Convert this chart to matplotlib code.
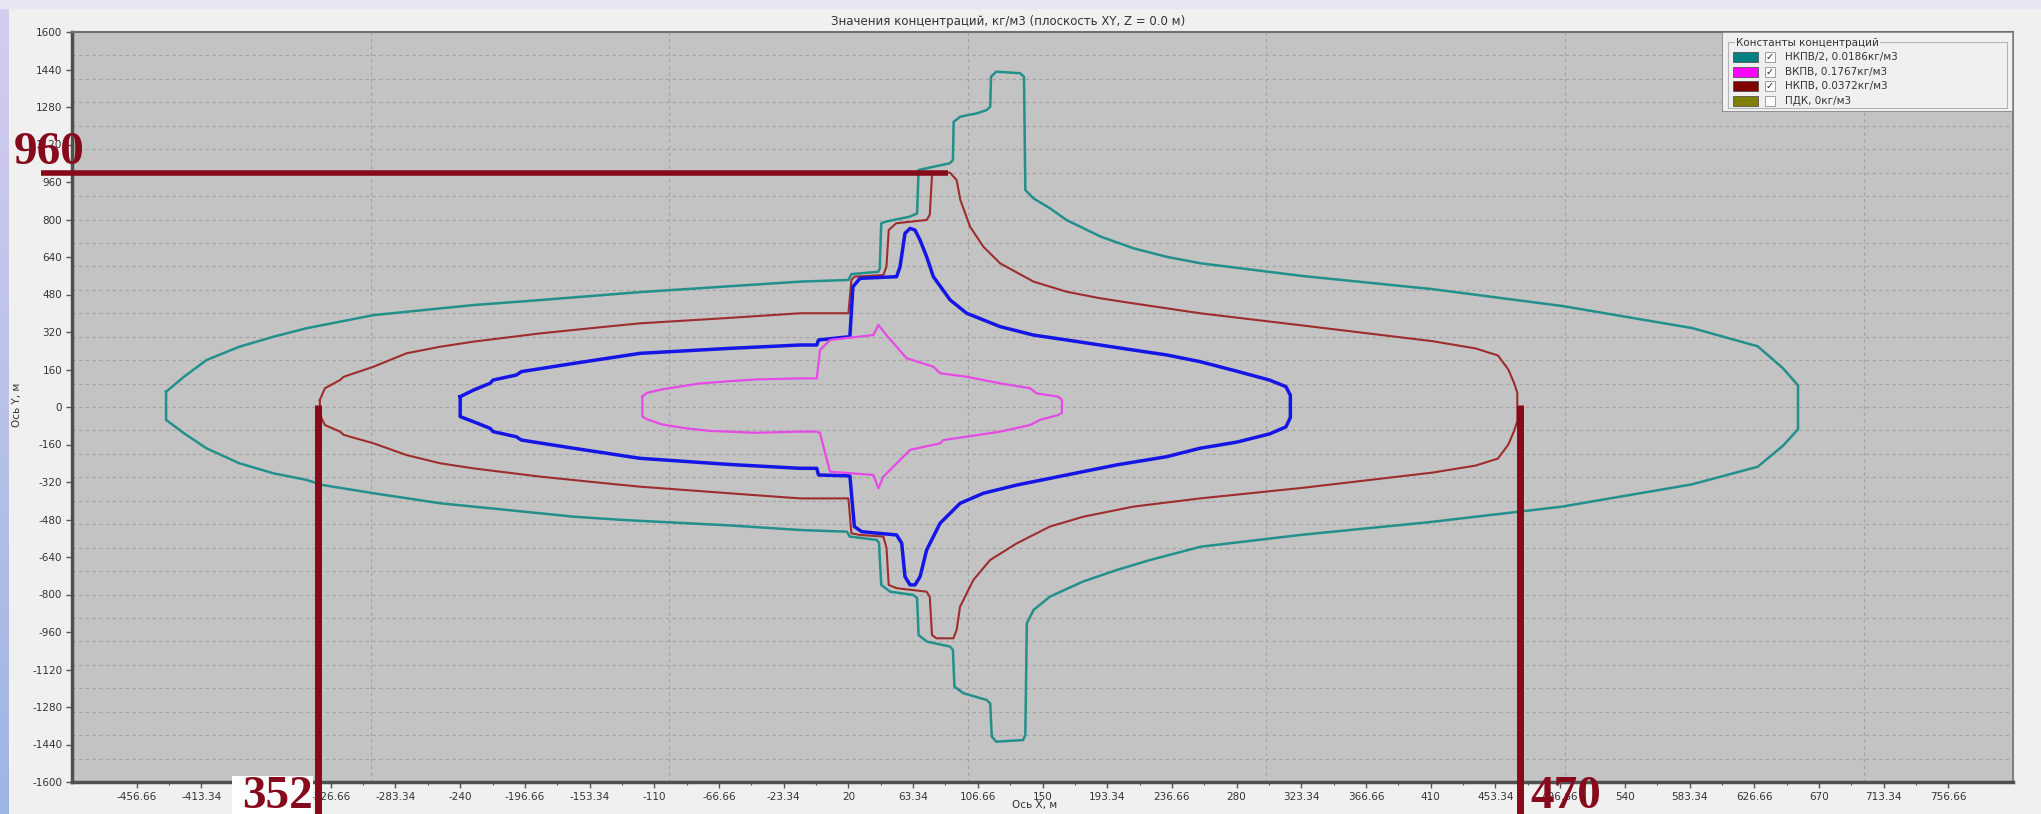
import matplotlib.pyplot as plt
import numpy as np
from matplotlib.patches import Rectangle
from matplotlib.colors import LinearSegmentedColormap

W, H = 2041, 814

# axis ticks as printed on the chart
x_tick_labels = ["-456.66", "-413.34", "-370", "-326.66", "-283.34", "-240", "-196.66",
                 "-153.34", "-110", "-66.66", "-23.34", "20", "63.34", "106.66", "150",
                 "193.34", "236.66", "280", "323.34", "366.66", "410", "453.34", "496.66",
                 "540", "583.34", "626.66", "670", "713.34", "756.66"]
y_ticks = list(range(-1600, 1601, 160))
grid_x = [-300, -100, 100, 300, 500, 700]
grid_y = list(range(-1500, 1600, 100))

# НКПВ/2 (teal)
teal_up_x = [-437, -425, -410, -388, -365, -343, -298, -231, -187, -120, -60, -12, 20, 22, 40, 41,
             42, 45, 61, 66, 67, 77, 88, 90, 90.5, 95, 106, 112.6, 115, 115.5, 119, 135, 137.6,
             138.5, 144, 155, 166, 189, 211, 233, 256, 324, 411, 498, 585, 629, 646, 656]
teal_up_y = [65, 129, 200, 257, 300, 336, 392, 435, 456, 490, 515, 535, 542, 567, 577, 590,
             784, 791, 812, 826, 1011, 1025, 1040, 1054, 1217, 1239, 1253, 1267, 1281, 1409, 1431,
             1424, 1409, 926, 890, 848, 798, 727, 677, 641, 613, 559, 503, 431, 337, 259, 165, 92]
teal_lo_x = [-437, -425, -410, -388, -365, -343, -332, -298, -253, -209, -164, -131, -60, -12, 19,
             21, 39, 40.5, 42, 48, 63.5, 66, 67, 72.5, 88, 90, 91, 97, 112.6, 115, 116, 119, 137,
             138.5, 139.5, 144, 155, 177, 200, 222, 256, 324, 411, 498, 585, 629, 646, 656]
teal_lo_y = [-55, -112, -176, -240, -283, -311, -333, -368, -411, -439, -468, -482, -505, -525,
             -532, -553, -567, -580, -759, -788, -802, -815, -973, -1001, -1022, -1036, -1193,
             -1221, -1250, -1265, -1406, -1428, -1421, -1400, -923, -866, -809, -745, -695, -653,
             -596, -545, -490, -425, -330, -255, -165, -95]

# НКПВ (dark red)
red_up_x = [-334, -332, -330.6, -320.5, -318, -298, -276, -253.5, -231, -186.5, -142, -119.5, -60,
            -12.4, 20, 22, 24, 43.4, 45.5, 47, 52, 72.4, 74.5, 76, 79, 88, 92.5, 95, 101.5, 110.4,
            121.6, 144, 166, 188.5, 211, 255.5, 324, 411, 440, 455, 462, 466, 468]
red_up_y = [30, 60, 80, 115, 129, 172, 229, 257, 279, 314, 343, 357, 380, 400, 400, 542, 556, 563,
            600, 755, 784, 798, 820, 990, 1000, 1000, 968, 883, 769, 684, 613, 535, 492, 464, 442,
            400, 348, 281, 250, 220, 160, 100, 60]
red_lo_x = [-334, -332, -330.6, -320.5, -318, -298, -276, -253.5, -231, -186.5, -142, -119.5, -60,
            -12.4, 20, 22, 27.8, 43.4, 45.5, 47, 52.3, 72.4, 74.5, 76, 79, 90.3, 92.5, 94.8, 103.7,
            114.9, 132.7, 155, 177.4, 210.9, 255.5, 324, 411, 440, 455, 462, 466, 468]
red_lo_y = [-30, -60, -77, -105, -119, -155, -205, -240, -262, -297, -326, -340, -368, -390, -390,
            -539, -546, -553, -600, -759, -773, -788, -810, -973, -987, -987, -951, -852, -738,
            -653, -582, -510, -468, -425, -390, -345, -280, -250, -220, -160, -100, -60]

# blue
blue_up_x = [-240, -231, -220, -218, -202.4, -199, -164, -119.5, -60, -12.4, -1.2, 0, 21, 23, 27.8,
             52.3, 54.6, 57.9, 61.3, 64.6, 68, 72.4, 76.9, 88.1, 99.2, 121.6, 143.9, 166.2, 188.5,
             210.9, 233.2, 255.5, 280, 302, 313, 316]
blue_up_y = [44, 72.5, 101, 115, 136.5, 151, 186, 229, 250, 264.5, 264.5, 286, 300, 513, 549, 556,
             599, 741, 762, 755, 712, 641, 556, 457, 400, 343, 307, 286, 264.5, 243, 222, 193.5,
             153, 115, 87, 50]
blue_lo_x = [-240, -231, -220, -218, -202.4, -199, -164, -119.5, -60, -12.4, -1.2, 0, 21, 24, 28.9,
             52.3, 55.7, 57.9, 61.3, 64.6, 68, 72.4, 81.4, 94.8, 110.4, 132.7, 166.2, 199.7, 233.2,
             255.5, 280, 302, 313, 316]
blue_lo_y = [-41, -63, -91, -105, -127, -141, -176, -219, -245, -261.6, -261.6, -290, -294, -510,
             -532, -546, -581, -724, -759, -759, -724, -610, -496, -411, -368, -333, -290, -247,
             -212, -176, -150, -115, -85, -45]

# ВКПВ (magenta)
mag_up_x = [-118, -115, -105, -95, -80, -60, -40, -12.4, -1.2, 1, 7.7, 36.7, 40.1, 44.5, 59, 76.9,
            81.4, 99.2, 121.6, 141.7, 146.1, 160.6, 163]
mag_up_y = [45, 60, 75, 85, 100, 110, 118, 122, 122, 243, 286, 307, 350, 314, 208, 172, 144, 129,
            101, 80, 58, 44, 30]
mag_lo_x = [-118, -115, -105, -90, -73, -42.5, -12.4, -1.2, 1, 7.7, 36.7, 40.1, 43.4, 59, 61.3,
            81.4, 83.6, 99.2, 121.6, 141.7, 148.3, 160.6, 163]
mag_lo_y = [-41, -52, -74, -90, -102, -110, -105, -105, -112, -276, -290, -347, -297, -198, -183,
            -155, -141, -126.5, -105, -77, -55, -34, -25]

# hand-drawn marks on the screenshot
mark_h_x = [-521, 87]
mark_h_y = 1000
mark_v_x = [-335, 470]
mark_v_y = [10, -1740]
mark_texts = ["960", "352", "470"]

legend_title = "Константы концентраций"
legend_labels = ["НКПВ/2, 0.0186кг/м3", "ВКПВ, 0.1767кг/м3", "НКПВ, 0.0372кг/м3", "ПДК, 0кг/м3"]
legend_colors = ["#008080", "#ff00ff", "#800000", "#808000"]
legend_checked = [True, True, True, False]

fig = plt.figure(figsize=(W / 100, H / 100), dpi=100, facecolor="#f0f0f0")

# slide background strips
bg = fig.add_axes([0, 0, 1, 1], zorder=-10)
cmap = LinearSegmentedColormap.from_list("strip", ["#d4cdef", "#9db5e3"])
bg.imshow(np.linspace(0, 1, 200)[:, None], extent=[0, 9, H, 0], cmap=cmap, aspect="auto")
bg.add_patch(Rectangle((0, 0), W, 8, color="#e9e5f5"))
bg.set_xlim(0, W)
bg.set_ylim(H, 0)
bg.axis("off")

ax = fig.add_axes([72 / W, 1 - 782 / H, (2013 - 72) / W, (782 - 32) / H], zorder=1)
ax.set_facecolor("#c3c3c3")
ax.set_xlim(-500, 800)
ax.set_ylim(-1600, 1600)

xt = np.array([float(s) for s in x_tick_labels])
ax.set_xticks(xt)
ax.set_xticklabels(x_tick_labels)
ax.set_xticks((xt[:-1] + xt[1:]) / 2, minor=True)
ax.set_yticks(y_ticks)
ax.set_yticklabels([str(v) for v in y_ticks])
ax.tick_params(axis="both", which="major", length=4, width=1, color="#555555",
               labelsize=7.5, labelcolor="#333333", pad=3)
ax.tick_params(axis="x", which="minor", length=2.5, width=0.8, color="#555555")

for gx in grid_x:
    ax.axvline(gx, color="#a2a2a2", lw=0.8, ls=(0, (3, 3)), zorder=0.5)
for gy in grid_y:
    ax.axhline(gy, color="#a2a2a2", lw=0.8, ls=(0, (3, 3)), zorder=0.5)

for side, lw, col in [("left", 2.5, "#505050"), ("bottom", 2.5, "#505050"),
                      ("top", 1.5, "#707070"), ("right", 1.5, "#808080")]:
    ax.spines[side].set_linewidth(lw)
    ax.spines[side].set_color(col)


def closed(ux, uy, lx, ly):
    return list(ux) + list(lx)[::-1] + [ux[0]], list(uy) + list(ly)[::-1] + [uy[0]]


for ux, uy, lx, ly, col, lw in [
    (teal_up_x, teal_up_y, teal_lo_x, teal_lo_y, "#23908b", 1.8),
    (red_up_x, red_up_y, red_lo_x, red_lo_y, "#9e2d2d", 1.5),
    (blue_up_x, blue_up_y, blue_lo_x, blue_lo_y, "#1515e6", 2.5),
    (mag_up_x, mag_up_y, mag_lo_x, mag_lo_y, "#e64ae6", 1.6),
]:
    cx, cy = closed(ux, uy, lx, ly)
    ax.plot(cx, cy, color=col, lw=lw, zorder=3, solid_joinstyle="round")

mark_col = "#86091c"
ax.plot(mark_h_x, [mark_h_y, mark_h_y], color=mark_col, lw=4, clip_on=False, zorder=6,
        solid_capstyle="butt")
for mx in mark_v_x:
    ax.plot([mx, mx], mark_v_y, color=mark_col, lw=5, clip_on=False, zorder=6,
            solid_capstyle="butt")

fig.text(1008 / W, 1 - 21 / H, "Значения концентраций, кг/м3 (плоскость XY, Z = 0.0 м)",
         ha="center", va="center", fontsize=8.5, color="#333333")
fig.text(17 / W, 1 - 405 / H, "Ось Y, м", rotation=90, ha="center", va="center",
         fontsize=7.5, color="#333333")
fig.text(1035 / W, 1 - 805 / H, "Ось X, м", ha="center", va="center",
         fontsize=7.5, color="#333333")

# legend panel
lg = fig.add_axes([1722 / W, 1 - 112 / H, 291 / W, 80 / H], zorder=5)
lg.set_xlim(0, 291)
lg.set_ylim(80, 0)
lg.axis("off")
lg.add_patch(Rectangle((0, 0), 291, 80, fc="#f0f0f0", ec="#808080", lw=1.2))
lg.add_patch(Rectangle((6, 10), 279, 66, fill=False, ec="#b4b4b4", lw=0.8))
lg.text(14, 11, legend_title, fontsize=7.5, va="center", ha="left", color="#333333",
        bbox=dict(fc="#f0f0f0", ec="none", pad=0.5))
for i, (lab, col, chk) in enumerate(zip(legend_labels, legend_colors, legend_checked)):
    yc = 25 + i * 14.7
    lg.add_patch(Rectangle((11, yc - 5), 25, 10, fc=col, ec="#404040", lw=0.5))
    lg.add_patch(Rectangle((43, yc - 5), 10, 10, fc="white", ec="#909090", lw=0.6))
    if chk:
        lg.text(48, yc, "✓", fontsize=7, ha="center", va="center", color="#202020")
    lg.text(63, yc, lab, fontsize=7.5, ha="left", va="center", color="#333333")

# overlay for the big hand-written numbers
ov = fig.add_axes([0, 0, 1, 1], zorder=10)
ov.set_xlim(0, W)
ov.set_ylim(H, 0)
ov.axis("off")
num_style = dict(fontfamily="Liberation Serif", fontweight="bold", fontsize=34,
                 color=mark_col, va="baseline")
ov.text(14, 164, mark_texts[0], ha="left", **num_style)
ov.add_patch(Rectangle((232, 776), 81, 38, fc="white", ec="none"))
ov.text(313, 808, mark_texts[1], ha="right", **num_style)
ov.text(1530, 808, mark_texts[2], ha="left", **num_style)

fig.savefig("out.png", dpi=100, facecolor=fig.get_facecolor())
